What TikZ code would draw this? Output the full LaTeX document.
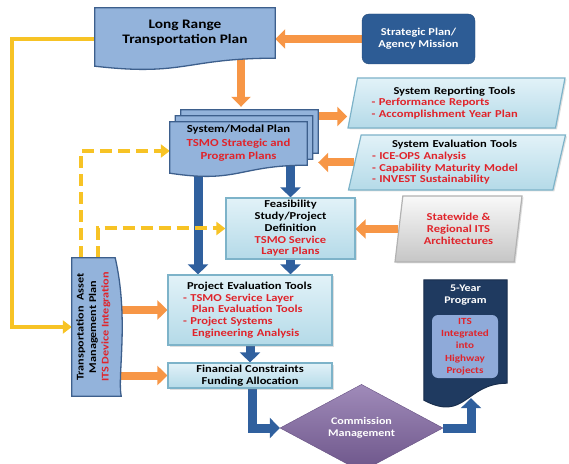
\documentclass[tikz,border=0pt]{standalone}
\usepackage{fontspec}
\setmainfont{Carlito}[FakeStretch=1.18]
\usepackage{tikz}
\usetikzlibrary{arrows.meta,positioning,calc,shapes.geometric,shadows}
\definecolor{docblue}{HTML}{93B3DB}
\definecolor{docedge}{HTML}{3D5F8C}
\definecolor{tealtop}{HTML}{E2F2F8}
\definecolor{tealbot}{HTML}{B4DAE8}
\definecolor{tealedge}{HTML}{7DB3C9}
\definecolor{tsmored}{HTML}{E0242B}
\definecolor{tsmoorange}{HTML}{F79646}
\definecolor{tsmoblue}{HTML}{30609E}
\definecolor{tsmoyellow}{HTML}{F7C325}
\definecolor{stratblue}{HTML}{2D5C95}
\definecolor{navy}{HTML}{1F3A60}
\definecolor{itsfill}{HTML}{8FAAD9}
\definecolor{commpurple}{HTML}{8064A2}

\pgfdeclarelayer{arrowlayer}
\pgfdeclarelayer{shapelayer}
\pgfsetlayers{arrowlayer,shapelayer,main}

\newcommand{\redtxt}[1]{\textcolor{tsmored}{#1}}
% page outline with a wavy lower edge, laid under a named node
\newcommand{\docshape}[4][]{%
  \path[#1] let \p1=($(#2.north west)+#4$), \p2=($(#2.south east)+#4$),
      \n1={0.5*(\x1+\x2)} in
    (\p1) -- (\x2,\y1) -- (\p2)
    .. controls (\n1,\y2) and (\n1,{\y2-2.3*#3}) .. (\x1,{\y2-#3}) -- cycle;}

\tikzset{
  docbox/.style={
    align=center,
    inner sep=1pt,
    font=\fontsize{10.8}{13.5}\selectfont\bfseries
  },
  docfill/.style={draw=docedge, fill=docblue, line width=1.3pt},
  navyfill/.style={draw=navy!80!black, fill=navy, line width=1pt},
  tealbox/.style={
    draw=tealedge,
    line width=1.2pt,
    top color=tealtop,
    bottom color=tealbot,
    align=center,
    inner sep=1.5pt,
    font=\fontsize{10.6}{11.7}\selectfont\bfseries,
    drop shadow={opacity=0.25, shadow xshift=1.5pt, shadow yshift=-1.5pt}
  },
  slantbox/.style={
    tealbox,
    shape=trapezium,
    trapezium left angle=75,
    trapezium right angle=105,
    trapezium stretches body,
    align=left
  },
  greybox/.style={
    slantbox,
    top color=gray!5,
    bottom color=gray!45,
    draw=gray!60,
    text=tsmored,
    align=center,
    trapezium left angle=77,
    trapezium right angle=103
  },
  stratbox/.style={
    draw=stratblue!80!black,
    fill=stratblue,
    rounded corners=7pt,
    text=white,
    align=center,
    minimum width=113pt,
    minimum height=50pt,
    font=\fontsize{10.5}{12}\selectfont\bfseries
  },
  diamondbox/.style={
    shape=diamond,
    draw=commpurple!80!black,
    top color=commpurple!75!white,
    bottom color=commpurple!85!black,
    text=white,
    align=center,
    inner sep=0pt,
    minimum width=163pt,
    minimum height=58pt,
    font=\fontsize{10.2}{11.5}\selectfont\bfseries
  },
  navytext/.style={text=white, align=center, font=\fontsize{10.2}{11.5}\selectfont\bfseries},
  itsbox/.style={
    fill=itsfill,
    rounded corners=6pt,
    text=tsmored,
    align=center,
    inner sep=1pt,
    minimum width=66pt,
    minimum height=63pt,
    font=\fontsize{9.4}{12.3}\selectfont\bfseries
  },
  tampfont/.style={font=\fontsize{10.3}{12.5}\selectfont\bfseries},
  orangearrow/.style={draw=tsmoorange, line width=8pt, -{Triangle[length=10pt,width=19pt]}},
  bluearrow/.style={draw=tsmoblue, line width=9pt, -{Triangle[length=10pt,width=20pt]}},
  yellowline/.style={draw=tsmoyellow, line width=4pt, -{Triangle[length=9pt,width=13pt]}},
  yellowdash/.style={yellowline, dash pattern=on 12pt off 6pt}
}

\begin{document}
\begin{tikzpicture}[x=1pt,y=1pt]
  \useasboundingbox (0,0) rectangle (569,463);
  % plans and tools
  \node[docbox, minimum width=180pt, minimum height=50pt,
    font=\fontsize{13}{15.5}\selectfont\bfseries] (lrtp) at (185,430) {Long Range\\Transportation Plan};
  \node[stratbox] (strat) at (418.5,424) {Strategic Plan/\\Agency Mission};
  \node[docbox, minimum width=137pt, minimum height=43pt] (smp) at (238.5,319.5)
    {System/Modal Plan\\\redtxt{TSMO Strategic and}\\\redtxt{Program Plans}};
  \node[slantbox, minimum width=217pt, minimum height=50pt, text width=170pt] (reptools) at (456.5,360)
    {\hspace*{22pt}System Reporting Tools\\\redtxt{- Performance Reports}\\\redtxt{- Accomplishment Year Plan}};
  \node[slantbox, minimum width=217pt, minimum height=55pt, text width=170pt] (evaltools) at (457,300.5)
    {\hspace*{20pt}System Evaluation Tools\\\redtxt{- ICE-OPS Analysis}\\\redtxt{- Capability Maturity Model}\\\redtxt{- INVEST Sustainability}};
  \node[tealbox, minimum width=129pt, minimum height=61pt] (feas) at (290.5,234.5)
    {Feasibility\\Study/Project\\Definition\\\redtxt{TSMO Service}\\\redtxt{Layer Plans}};
  \node[greybox, minimum width=127pt, minimum height=66pt] (statewide) at (458.5,234)
    {Statewide \&\\Regional ITS\\Architectures};
  \node[tealbox, minimum width=164pt, minimum height=70pt, text width=134pt, align=left] (projeval) at (250,153)
    {\hspace*{4pt}Project Evaluation Tools\\\redtxt{- TSMO Service Layer}\\\redtxt{\hspace*{9pt}Plan Evaluation Tools}\\\redtxt{- Project Systems}\\\redtxt{\hspace*{9pt}Engineering Analysis}};
  \node[tealbox, minimum width=164pt, minimum height=25pt, inner sep=0.5pt] (fin) at (250,87.5)
    {Financial Constraints\\Funding Allocation};
  \node[tampfont, minimum width=43pt, minimum height=138pt, inner sep=0pt] (tamp) at (93.5,136)
    {\rotatebox{90}{\begin{tabular}{@{}c@{}}Transportation~~Asset\\Management Plan\\\redtxt{ITS Device Integration}\end{tabular}}};
  \node[diamondbox] (commission) at (361.5,35) {Commission\\Management};
  \node[docbox, minimum width=83pt, minimum height=103pt,
    label={[navytext, anchor=north, yshift=-2pt]north:{5-Year\\Program}}] (fiveyr) at (465.5,131.5) {};
  \node[itsbox] (its) at (465,116.5) {ITS\\Integrated\\into\\Highway\\Projects};

  \coordinate (smptop) at ([xshift=2.5pt,yshift=15pt]smp.north);
  \coordinate (smpback) at ([xshift=11pt,yshift=27pt]smp.east);
  \coordinate (fivebottom) at ([xshift=5.5pt,yshift=-15pt]fiveyr.south);

  \begin{pgfonlayer}{shapelayer}
    \docshape[docfill]{lrtp}{8}{(0,0)}
    \docshape[docfill]{smp}{8}{(11,12)}
    \docshape[docfill]{smp}{8}{(5.5,6)}
    \docshape[docfill]{smp}{8}{(0,0)}
    \docshape[navyfill]{fiveyr}{17}{(0,0)}
    \path[docfill] (tamp.north west) -- (tamp.north east)
      .. controls ($(tamp.east)+(14,8)$) and ($(tamp.south east)+(2,20)$) .. ($(tamp.south east)+(6,0)$)
      -- (tamp.south west) -- cycle;
  \end{pgfonlayer}

  % connectors
  \begin{pgfonlayer}{arrowlayer}
    \draw[orangearrow] (strat.west) -- (strat.west -| lrtp.east);
    \draw[orangearrow] (smptop |- lrtp.south) -- (smptop);
    \draw[orangearrow] (smpback) -- (smpback -| reptools.bottom left corner);
    \draw[orangearrow] (evaltools.west) -- (evaltools.west -| smpback);
    \draw[orangearrow] (statewide.west) -- (statewide.west -| feas.east);
    \draw[orangearrow] (projeval.west -| tamp.east) -- (projeval.west);
    \draw[orangearrow] (fin.west -| tamp.east) -- (fin.west);
    \draw[bluearrow] ([xshift=-40.5pt]smp.south) -- ([xshift=-40.5pt]smp.south |- projeval.north);
    \draw[bluearrow] (feas.north |- smp.south) -- (feas.north);
    \draw[bluearrow] (feas.south) -- (feas.south |- projeval.north);
    \draw[bluearrow] (projeval.south) -- (fin.north);
    \draw[bluearrow] ([xshift=2pt]fin.south) |- (commission.west);
    \draw[bluearrow] (commission.east) -| (fivebottom);
    \draw[yellowline] ([yshift=-6pt]lrtp.west) -- ++(-83,0) |- (tamp.west);
    \draw[yellowdash] ([xshift=-12.5pt]tamp.north) |- ([yshift=-7.5pt]smp.west);
    \draw[yellowdash] ([xshift=4.5pt]tamp.north) |- (feas.west);
  \end{pgfonlayer}
\end{tikzpicture}
\end{document}
